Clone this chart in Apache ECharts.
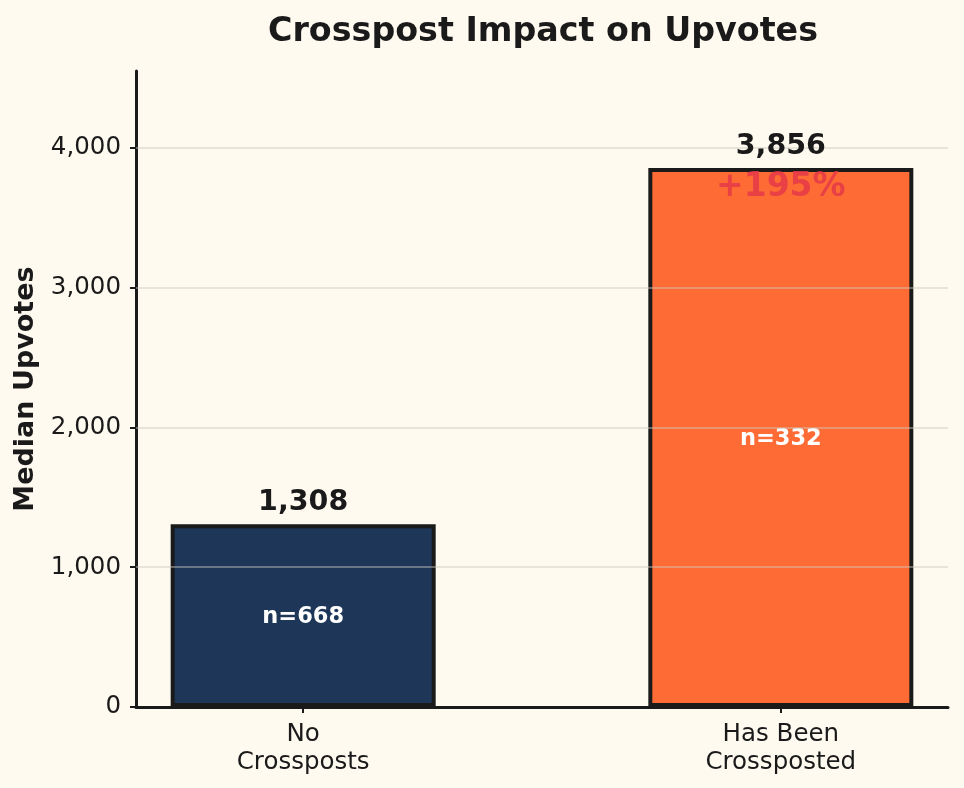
<!DOCTYPE html>
<html><head><meta charset="utf-8">
<script src="https://cdn.jsdelivr.net/npm/echarts@6/dist/echarts.min.js"></script>
<style>html,body{margin:0;padding:0;background:#fffaf0;}#c{width:964px;height:788px;}</style>
</head><body><div id="c"></div>
<script>
const categories = ['No\nCrossposts', 'Has Been\nCrossposted'];
const medianUpvotes = [1308, 3856];
const sampleSizes = [668, 332];
const barColors = ['#1e3657', '#ff6b35'];
const yTicks = [0, 1000, 2000, 3000, 4000];
const gridTicks = [1000, 2000, 3000, 4000];

const FONT = 'DejaVu Sans';
const fmt = v => v.toLocaleString('en-US');
const pct = Math.round((medianUpvotes[1] / medianUpvotes[0] - 1) * 100);
const positions = categories.map((c, i) => i);

const chart = echarts.init(document.getElementById('c'), null, {renderer: 'canvas'});
chart.setOption({
  backgroundColor: '#fffaf0',
  animation: false,
  title: {
    text: 'Crosspost Impact on Upvotes',
    left: 538, top: 11, textAlign: 'center',
    textStyle: {fontFamily: FONT, fontSize: 33.3, fontWeight: 'bold', color: '#1a1a1a'}
  },
  grid: {left: 136, right: 16, top: 71, bottom: 81},
  xAxis: {
    type: 'value', min: -0.35, max: 1.35,
    splitLine: {show: false},
    axisLine: {show: true, onZero: false, lineStyle: {color: '#1a1a1a', width: 3}},
    axisTick: {show: true, customValues: positions, length: 6, lineStyle: {color: '#1a1a1a', width: 2}},
    axisLabel: {
      customValues: positions, formatter: v => categories[Math.round(v)] || '',
      fontFamily: FONT, fontSize: 24.5, color: '#1a1a1a', lineHeight: 28.5, margin: 13
    }
  },
  yAxis: {
    type: 'value', min: 0, max: 4550, interval: 1000,
    name: 'Median Upvotes', nameLocation: 'middle', nameRotate: 90, nameGap: 97,
    nameTextStyle: {fontFamily: FONT, fontSize: 27, fontWeight: 'bold', color: '#1a1a1a'},
    splitLine: {show: false},
    axisLine: {show: true, onZero: false, lineStyle: {color: '#1a1a1a', width: 3}},
    axisTick: {show: true, customValues: yTicks, length: 6, lineStyle: {color: '#1a1a1a', width: 2}},
    axisLabel: {customValues: yTicks, formatter: v => fmt(v), fontFamily: FONT, fontSize: 24.5, color: '#1a1a1a', margin: 15}
  },
  series: [
    {
      type: 'bar', z: 2, barWidth: 265,
      data: medianUpvotes.map((v, i) => ({
        value: [positions[i], v],
        itemStyle: {color: barColors[i], borderColor: '#1a1a1a', borderWidth: 4}
      })),
      label: {
        show: true, position: 'inside', offset: [0, 2],
        formatter: p => 'n=' + sampleSizes[p.dataIndex],
        fontFamily: FONT, fontSize: 22.5, fontWeight: 'bold', color: '#ffffff'
      }
    },
    {
      type: 'line', z: 3, data: [], silent: true,
      markLine: {
        silent: true, symbol: 'none', label: {show: false},
        lineStyle: {color: 'rgba(205,200,190,0.6)', width: 1.5, type: 'solid'},
        data: gridTicks.map(t => ({yAxis: t}))
      }
    },
    {
      type: 'scatter', z: 5, symbolSize: 0, itemStyle: {opacity: 1},
      data: medianUpvotes.map((v, i) => [positions[i], v]),
      label: {
        show: true, position: 'top', distance: 7,
        formatter: p => fmt(p.value[1]),
        fontFamily: FONT, fontSize: 28.5, fontWeight: 'bold', color: '#1a1a1a'
      }
    },
    {
      type: 'scatter', z: 5, symbolSize: 0, itemStyle: {opacity: 1},
      data: [[positions[1], medianUpvotes[1]]],
      label: {
        show: true, position: 'bottom', distance: 3,
        formatter: () => '+' + pct + '%',
        fontFamily: FONT, fontSize: 33, fontWeight: 'bold', color: 'rgba(228,56,72,0.85)'
      }
    }
  ]
});
</script></body></html>
